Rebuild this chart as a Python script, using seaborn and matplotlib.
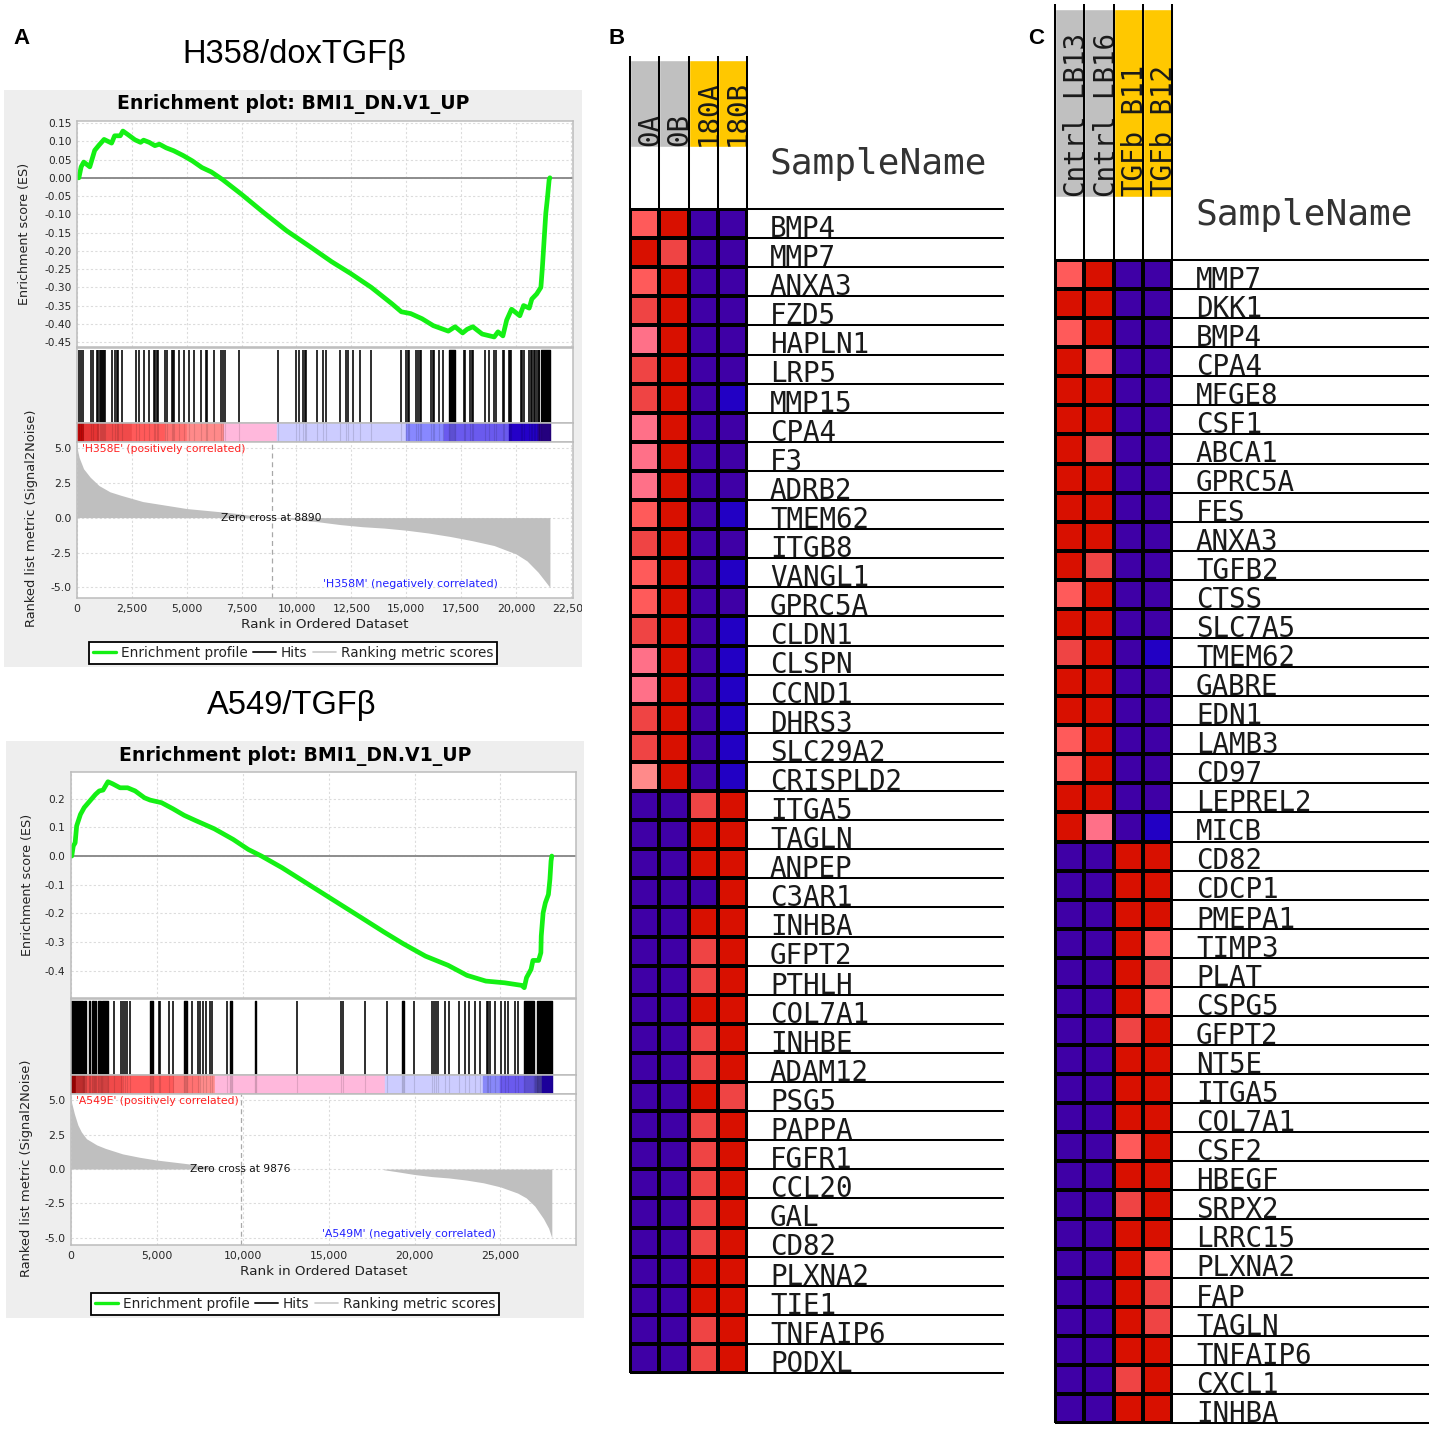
import matplotlib
matplotlib.use("Agg")
import matplotlib.pyplot as plt
from matplotlib.colors import ListedColormap
from matplotlib.lines import Line2D
from matplotlib.patches import Rectangle
from matplotlib.transforms import Bbox
import numpy as np
import seaborn as sns

W, H = 1434, 1429

# GSEA panel, H358
es1_rank = [0, 86, 189, 309, 583, 806, 1011, 1234, 1577, 1714, 1971, 2091, 2348, 2640, 2897, 3034, 3291, 3548,
            3754, 4062, 4405, 4834, 5262, 5691, 6119, 6633, 7490, 8518, 9547, 10575, 11604, 12461, 13403, 14346,
            14775, 15203, 15718, 16232, 16917, 17225, 17568, 17774, 18031, 18460, 19008, 19180, 19403, 19574,
            19797, 20174, 20345, 20602, 20722, 20945, 21134, 21203, 21271, 21357, 21425, 21511, 21545]
es1_score = [0, 0.0, 0.03, 0.043, 0.03, 0.075, 0.09, 0.105, 0.095, 0.115, 0.115, 0.128, 0.117, 0.104, 0.097, 0.103,
             0.097, 0.088, 0.092, 0.082, 0.074, 0.061, 0.046, 0.028, 0.016, -0.005, -0.045, -0.096, -0.145, -0.187,
             -0.23, -0.262, -0.30, -0.345, -0.367, -0.372, -0.386, -0.405, -0.42, -0.408, -0.425, -0.415, -0.408,
             -0.428, -0.436, -0.422, -0.433, -0.39, -0.36, -0.378, -0.35, -0.357, -0.332, -0.318, -0.30, -0.245,
             -0.18, -0.098, -0.06, -0.005, 0]
hits1 = [86, 189, 257, 634, 720, 926, 977, 1028, 1080, 1131, 1183, 1234, 1285, 1577, 1714, 1834, 1885, 2040, 2691,
         2828, 3068, 3274, 3514, 3565, 3634, 3685, 3994, 4079, 4319, 4371, 4422, 4645, 4885, 5091, 5331, 5656, 5879,
         5930, 6256, 6565, 6633, 6736, 7370, 9153, 9993, 10095, 10318, 10370, 10421, 10952, 11227, 11330, 11998,
         12272, 12324, 12581, 12872, 13403, 14775, 14998, 15066, 15135, 15460, 15546, 15615, 15683, 16146, 16197,
         16249, 16489, 16695, 17620, 17671, 17911, 17980, 18049, 18580, 18751, 19008, 19077, 19403, 19454, 19660,
         19711, 19763, 20208, 20277, 20345, 20602, 20671, 20739, 20808, 20876, 20945, 21031, 21065]
blocks1 = [(16950, 275), (21151, 394)]
strip1_edges = [0, 300, 1000, 2500, 4000, 5000, 6700, 9100, 15000, 16700, 19700, 21000, 21545]
strip1_cols = ["#c00808", "#e63434", "#f04a4a", "#ff5a5a", "#ff7070", "#ff8a8a", "#ffb8dc", "#ccccff", "#8888ff",
               "#6a5aee", "#2400c8", "#2a0090"]
metric1_rank = [0, 100, 300, 600, 1000, 1500, 2000, 3000, 4000, 5000, 6000, 7000, 8000, 8890, 10000, 11000, 12000,
                13000, 14000, 15000, 16000, 17000, 18000, 19000, 20000, 20500, 21000, 21300, 21545]
metric1_val = [5.0, 4.3, 3.5, 2.9, 2.3, 1.85, 1.6, 1.15, 0.9, 0.65, 0.5, 0.35, 0.15, 0, -0.15, -0.3, -0.5, -0.65,
               -0.75, -0.9, -1.1, -1.35, -1.65, -2.0, -2.6, -3.1, -3.9, -4.5, -5.0]
es1_ticks = [0.15, 0.10, 0.05, 0.00, -0.05, -0.10, -0.15, -0.20, -0.25, -0.30, -0.35, -0.40, -0.45]
rank1_ticks = [0, 2500, 5000, 7500, 10000, 12500, 15000, 17500, 20000, 22500]

# GSEA panel, A549
es2_rank = [0, 44, 132, 241, 329, 549, 768, 1098, 1427, 1646, 1866, 2151, 2415, 2854, 3293, 3732, 4280, 4610, 5268,
            5927, 6585, 7244, 8341, 9439, 10317, 11085, 12292, 13829, 15365, 16902, 18219, 19316, 20633, 21950, 23048,
            24145, 25242, 26230, 26384, 26516, 26779, 26889, 27218, 27350, 27372, 27481, 27613, 27789, 27877, 27943,
            27987]
es2_score = [0, 0.0, 0.035, 0.046, 0.105, 0.145, 0.169, 0.192, 0.215, 0.227, 0.23, 0.259, 0.252, 0.238, 0.238, 0.227,
             0.203, 0.195, 0.186, 0.165, 0.142, 0.124, 0.095, 0.058, 0.023, 0, -0.041, -0.099, -0.157, -0.215, -0.265,
             -0.305, -0.349, -0.381, -0.416, -0.436, -0.442, -0.451, -0.459, -0.424, -0.395, -0.364, -0.364, -0.337,
             -0.279, -0.198, -0.163, -0.134, -0.081, -0.017, 0]
hits2 = [2480, 2919, 3029, 3117, 3249, 3424, 5114, 5202, 5707, 5927, 7046, 7397, 7529, 7683, 7836, 8078, 8231, 9109,
         13126, 15694, 15848, 17099, 18372, 19975, 21006, 21138, 21248, 21357, 21796, 22016, 22565, 22938, 23157,
         23530, 23816, 24189, 24298, 24408, 24694, 25023, 25243, 25462, 25835, 26011]
blocks2 = [(0, 702), (768, 110), (1054, 66), (1230, 87), (1390, 80), (1580, 180), (1800, 351), (4610, 175),
           (6585, 176), (9263, 88), (10690, 88), (19250, 110), (26384, 549), (27108, 879)]
strip2_edges = [0, 300, 800, 3000, 6000, 7500, 8400, 18300, 24000, 25000, 27000, 27400, 27987]
strip2_cols = ["#a80404", "#d83434", "#f04a4a", "#ff5a5a", "#ff7272", "#ff8c8c", "#ffb8dc", "#ccccff", "#8888f8",
               "#6a5aee", "#4a40a8", "#2000b0"]
metric2_rank = [0, 100, 200, 400, 600, 900, 1500, 2000, 3000, 4000, 5000, 6000, 7000, 8000, 8300]
metric2_val = [5.0, 4.5, 4.0, 3.2, 2.7, 2.2, 1.75, 1.5, 1.1, 0.85, 0.65, 0.5, 0.35, 0.15, 0.1]
metric2b_rank = [18200, 19000, 20000, 21000, 22000, 23000, 24000, 25000, 26000, 26500, 27000, 27500, 27800, 27987]
metric2b_val = [-0.05, -0.2, -0.4, -0.55, -0.65, -0.8, -1.0, -1.3, -1.75, -2.1, -2.7, -3.6, -4.3, -5.0]
es2_ticks = [0.2, 0.1, 0.0, -0.1, -0.2, -0.3, -0.4]
rank2_ticks = [0, 5000, 10000, 15000, 20000, 25000]

metric_ticks = [5.0, 2.5, 0.0, -2.5, -5.0]

# heatmaps, values are colour levels of the scale
level_colors = ["#2200c4", "#3f00a6", "#d81000", "#ef4444", "#ff5a5a", "#ff7088", "#ff8a8a"]

samples_b = ["0A", "0B", "180A", "180B"]
genes_b = ["BMP4", "MMP7", "ANXA3", "FZD5", "HAPLN1", "LRP5", "MMP15", "CPA4", "F3", "ADRB2", "TMEM62", "ITGB8",
           "VANGL1", "GPRC5A", "CLDN1", "CLSPN", "CCND1", "DHRS3", "SLC29A2", "CRISPLD2", "ITGA5", "TAGLN", "ANPEP",
           "C3AR1", "INHBA", "GFPT2", "PTHLH", "COL7A1", "INHBE", "ADAM12", "PSG5", "PAPPA", "FGFR1", "CCL20", "GAL",
           "CD82", "PLXNA2", "TIE1", "TNFAIP6", "PODXL"]
levels_b = [[4, 2, 1, 1], [2, 3, 1, 1], [4, 2, 1, 1], [3, 2, 1, 1], [5, 2, 1, 1], [3, 2, 1, 1], [3, 2, 1, 0],
            [5, 2, 1, 1], [5, 2, 1, 1], [5, 2, 1, 1], [4, 2, 1, 0], [3, 2, 1, 1], [4, 2, 1, 0], [4, 2, 1, 1],
            [3, 2, 1, 0], [5, 2, 1, 0], [5, 2, 1, 0], [3, 2, 1, 0], [3, 2, 1, 0], [6, 2, 1, 0], [1, 1, 3, 2],
            [1, 1, 2, 2], [1, 1, 2, 2], [1, 1, 1, 2], [1, 1, 2, 2], [1, 1, 3, 2], [1, 1, 3, 2], [1, 1, 2, 2],
            [1, 1, 3, 2], [1, 1, 3, 2], [1, 1, 2, 3], [1, 1, 3, 2], [1, 1, 3, 2], [1, 1, 3, 2], [1, 1, 3, 2],
            [1, 1, 3, 2], [1, 1, 2, 2], [1, 1, 2, 2], [1, 1, 3, 2], [1, 1, 3, 2]]

samples_c = ["Cntrl_LB13", "Cntrl_LB16", "TGFb_B11", "TGFb_B12"]
genes_c = ["MMP7", "DKK1", "BMP4", "CPA4", "MFGE8", "CSF1", "ABCA1", "GPRC5A", "FES", "ANXA3", "TGFB2", "CTSS",
           "SLC7A5", "TMEM62", "GABRE", "EDN1", "LAMB3", "CD97", "LEPREL2", "MICB", "CD82", "CDCP1", "PMEPA1", "TIMP3",
           "PLAT", "CSPG5", "GFPT2", "NT5E", "ITGA5", "COL7A1", "CSF2", "HBEGF", "SRPX2", "LRRC15", "PLXNA2", "FAP",
           "TAGLN", "TNFAIP6", "CXCL1", "INHBA"]
levels_c = [[4, 2, 1, 1], [2, 2, 1, 1], [4, 2, 1, 1], [2, 4, 1, 1], [2, 2, 1, 1], [2, 2, 1, 1], [2, 3, 1, 1],
            [2, 2, 1, 1], [2, 2, 1, 1], [2, 2, 1, 1], [2, 3, 1, 1], [4, 2, 1, 1], [2, 2, 1, 1], [3, 2, 1, 0],
            [2, 2, 1, 1], [2, 2, 1, 1], [4, 2, 1, 1], [4, 2, 1, 1], [2, 2, 1, 1], [2, 5, 1, 0], [1, 1, 2, 2],
            [1, 1, 2, 2], [1, 1, 2, 2], [1, 1, 2, 4], [1, 1, 2, 3], [1, 1, 2, 4], [1, 1, 3, 2], [1, 1, 2, 2],
            [1, 1, 2, 2], [1, 1, 2, 2], [1, 1, 4, 2], [1, 1, 2, 2], [1, 1, 3, 2], [1, 1, 2, 2], [1, 1, 2, 4],
            [1, 1, 2, 3], [1, 1, 2, 3], [1, 1, 2, 2], [1, 1, 3, 2], [1, 1, 2, 2]]

sns.set_style("white")
plt.rcParams["axes.unicode_minus"] = False
plt.rcParams["font.family"] = ["DejaVu Sans"]

fig = plt.figure(figsize=(W / 100, H / 100), dpi=100, facecolor="white")


def px_ax(x0, y0, x1, y1):
    return fig.add_axes([x0 / W, 1 - y1 / H, (x1 - x0) / W, (y1 - y0) / H])


def fx(x):
    return x / W


def fy(y):
    return 1 - y / H


def style_axis(ax):
    for s in ax.spines.values():
        s.set_color("#bcbcbc")
        s.set_linewidth(1.1)


def gsea_panel(box, xs, ys, xmax, es_lim, met_lim, es, hits, blocks, strip, metric, es_ticks, rank_ticks, es_fmt,
               names, cross, lab_x):
    x0, x1 = xs
    es_top, es_bot, hit_bot, strip_bot, met_bot = ys
    fig.patches.append(Rectangle((fx(box[0]), fy(box[3])), (box[2] - box[0]) / W, (box[3] - box[1]) / H,
                                 transform=fig.transFigure, facecolor="#eeeeee", edgecolor="none", zorder=-5))
    fig.text(fx((box[0] + box[2]) / 2), fy(box[1] + 14.5), "Enrichment plot: BMI1_DN.V1_UP", fontsize=13.6,
             fontweight="bold", ha="center", va="center", color="black")

    # running enrichment score
    ax = px_ax(x0, es_top, x1, es_bot)
    ax.grid(True, color="#dcdcdc", linestyle=(0, (2, 2)), linewidth=0.8)
    ax.axhline(0, color="#8c8c8c", linewidth=1.4)
    sns.lineplot(x=es[0], y=es[1], color="#14f014", linewidth=3.4, sort=False, errorbar=None, ax=ax)
    ax.set_xlim(0, xmax)
    ax.set_ylim(*es_lim)
    ax.set_xticks(rank_ticks)
    ax.set_xticklabels([])
    ax.set_yticks(es_ticks)
    ax.set_yticklabels([es_fmt % v for v in es_ticks], fontsize=7.6)
    ax.tick_params(axis="y", length=2, pad=2, color="#888888")
    ax.tick_params(axis="x", length=0)
    ax.set_ylabel("Enrichment score (ES)", fontsize=9.2, color="#222222", labelpad=0)
    ax.yaxis.set_label_coords((lab_x[0] + 7 - x0) / (x1 - x0), 0.5)
    style_axis(ax)

    # hit positions
    ax = px_ax(x0, es_bot + 1, x1, hit_bot)
    ax.vlines(hits, 0, 1, color="black", linewidth=1.15)
    ax.broken_barh(blocks, (0, 1), color="black")
    ax.set_xlim(0, xmax)
    ax.set_ylim(0, 1.03)
    ax.set_xticks([])
    ax.set_yticks([])
    style_axis(ax)

    # correlation colour strip
    ax = px_ax(x0, hit_bot, x1, strip_bot)
    edges, cols = strip
    ax.broken_barh([(edges[i], edges[i + 1] - edges[i]) for i in range(len(cols))], (0, 1), color=cols)
    ax.vlines(hits, 0, 1, color="#000000", linewidth=0.8, alpha=0.12)
    ax.broken_barh(blocks, (0, 1), color="#000000", alpha=0.12)
    ax.set_xlim(0, xmax)
    ax.set_ylim(0, 1)
    ax.set_xticks([])
    ax.set_yticks([])
    style_axis(ax)

    # ranked metric
    ax = px_ax(x0, strip_bot, x1, met_bot)
    ax.grid(True, color="#dcdcdc", linestyle=(0, (2, 2)), linewidth=0.8)
    for part in metric:
        ax.fill_between(part[0], part[1], 0, color="#bfbfbf", linewidth=0)
    ax.axvline(cross, color="#a8a8a8", linestyle=(0, (4, 3)), linewidth=0.9)
    ax.set_xlim(0, xmax)
    ax.set_ylim(*met_lim)
    ax.set_xticks(rank_ticks)
    ax.set_xticklabels([f"{v:,}" for v in rank_ticks], fontsize=7.8)
    ax.set_yticks(metric_ticks)
    ax.set_yticklabels(["%.1f" % v for v in metric_ticks], fontsize=7.8)
    ax.tick_params(length=2, pad=2, color="#888888")
    clip = Bbox([[box[0], H - box[3]], [box[2], H - box[1]]])
    for lab in ax.get_xticklabels():
        lab.set_clip_box(clip)
        lab.set_clip_on(True)
    ax.set_xlabel("Rank in Ordered Dataset", fontsize=9.7, color="#222222", labelpad=3)
    ax.set_ylabel("Ranked list metric (Signal2Noise)", fontsize=9.4, color="#222222")
    ax.yaxis.set_label_coords((lab_x[1] + 7 - x0) / (x1 - x0), 0.51)
    style_axis(ax)
    ax.text(xmax * 0.01, 4.95, "'%s' (positively correlated)" % names[0], color="#ff2020", fontsize=7.75, va="center")
    ax.text(xmax * 0.4965, -4.75, "'%s' (negatively correlated)" % names[1], color="#2020ff", fontsize=7.95,
            va="center")
    ax.text(cross * 0.995, 0, "Zero cross at %d" % cross, fontsize=7.7, ha="center", va="center", color="#111111")

    # legend
    handles = [Line2D([], [], color="#14f014", linewidth=2.4), Line2D([], [], color="#222222", linewidth=1.4),
               Line2D([], [], color="#c8c8c8", linewidth=1.2)]
    cx = (box[0] + box[2]) / 2
    fig.legend(handles, ["Enrichment profile", "Hits", "Ranking metric scores"], ncol=3, loc="center",
               bbox_to_anchor=(fx(cx), fy(box[3] - 14)), frameon=True, fancybox=False, edgecolor="black",
               facecolor="white", framealpha=1, fontsize=9.8, handlelength=1.7, handletextpad=0.35,
               columnspacing=0.4, borderpad=0.28, labelcolor="#222222").get_frame().set_linewidth(1.3)
    fig.add_artist(Line2D([fx(cx + 4), fx(cx + 22)], [fy(box[3] - 18), fy(box[3] - 18)], color="#c8c8c8", linewidth=1))


def gene_heatmap(x0, x1, y_head, y_fill0, y_fill1, y0, y1, x_end, x_lab, samples, genes, levels):
    # colour key on top of the matrix
    head = px_ax(x0, y_head, x1, y0)
    cols = ["#c0c0c0", "#c0c0c0", "#ffc800", "#ffc800"]
    head.bar(np.arange(4) + 0.5, y_fill1 - y_fill0, bottom=y_fill0, width=1, color=cols)
    head.set_xlim(0, 4)
    head.set_ylim(y0, y_head)
    head.axis("off")
    for i, name in enumerate(samples):
        t = head.text(i + 0.97, y_fill1 - 1, name, rotation=90, rotation_mode="anchor", family="DejaVu Sans Mono",
                      fontsize=19.8, ha="left", va="baseline", color="#1a1a1a", zorder=3)
        # the underscore stays inside the column, as in the original
        t.set_clip_path(Rectangle((i, y_head), 1, y0 - y_head, transform=head.transData))
        t.set_clip_on(True)
    head.vlines(range(5), y_head, y0, color="black", linewidth=1.45, zorder=5, clip_on=False)

    ax = px_ax(x0, y0, x1, y1)
    sns.heatmap(np.array(levels), cmap=ListedColormap(level_colors), vmin=-0.5, vmax=len(level_colors) - 0.5,
                cbar=False, linewidths=1.45, linecolor="black", xticklabels=False, yticklabels=False, ax=ax)
    px_col = (x1 - x0) / 4
    px_row = (y1 - y0) / len(genes)
    ax.hlines(range(len(genes) + 1), 0, 4 + (x_end - x1) / px_col, color="black", linewidth=1.45, clip_on=False)
    ax.vlines([0, 4], 0, len(genes), color="black", linewidth=1.45, clip_on=False)
    for i, g in enumerate(genes):
        ax.text(4 + (x_lab - x1) / px_col, i + 1 - 0.04, g, family="DejaVu Sans Mono", fontsize=19.8, va="baseline",
                color="#1a1a1a", clip_on=False)
    ax.text(4 + (x_lab - x1) / px_col, -45 / px_row, "SampleName", family="DejaVu Sans Mono", fontsize=26, va="center",
            color="#333333", clip_on=False)


gsea_panel((4, 90, 582, 667), (77, 573), (121, 347, 423, 442, 598), 22597, (-0.4635, 0.1555), (-5.76, 5.42),
           (es1_rank, es1_score), hits1, blocks1, (strip1_edges, strip1_cols), [(metric1_rank, metric1_val)],
           es1_ticks, rank1_ticks, "%.2f", ("H358E", "H358M"), 8890, (24, 31))
gsea_panel((6, 741, 584, 1318), (71, 576), (772, 998, 1075, 1094, 1245), 29395, (-0.495, 0.293), (-5.52, 5.45),
           (es2_rank, es2_score), hits2, blocks2, (strip2_edges, strip2_cols),
           [(metric2_rank, metric2_val), (metric2b_rank, metric2b_val)],
           es2_ticks, rank2_ticks, "%.1f", ("A549E", "A549M"), 9876, (27, 26))

gene_heatmap(630, 747, 56, 60, 147, 209, 1373, 1004, 770, samples_b, genes_b, levels_b)
gene_heatmap(1055, 1172, 4, 9, 197, 260, 1423, 1429, 1196, samples_c, genes_c, levels_c)

fig.text(fx(294), fy(54), "H358/doxTGF\u03b2", family="Liberation Sans", fontsize=23.5, ha="center", va="center",
         color="black")
fig.text(fx(292), fy(705), "A549/TGF\u03b2", family="Liberation Sans", fontsize=23.5, ha="center", va="center",
         color="black")
for lab, x in zip("ABC", [22, 617, 1036]):
    fig.text(fx(x), fy(38), lab, family="Liberation Sans", fontweight="bold", fontsize=16, ha="center", va="center",
             color="black")

fig.savefig("out.png", dpi=100)
